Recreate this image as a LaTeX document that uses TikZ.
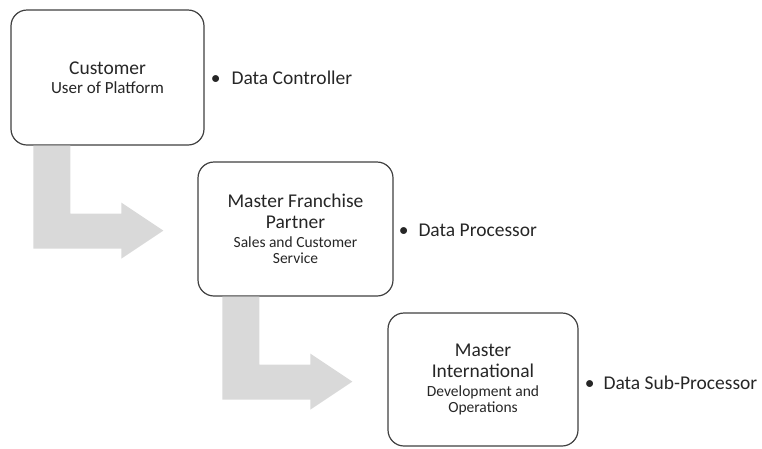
\documentclass[tikz,border=0pt]{standalone}
\usepackage{fontspec}
\setmainfont{Carlito}
\usepackage{tikz}
\usetikzlibrary{positioning,calc}
\definecolor{arrowgray}{RGB}{217,217,217}
\definecolor{boxgray}{RGB}{64,64,64}
\newcommand{\headfont}{\fontsize{19.5}{21}\selectfont}
\newcommand{\subfont}{\fontsize{15.5}{16}\selectfont}
\tikzstyle{entity} = [rectangle, rounded corners=16pt, draw=boxgray, line width=1.2pt, fill=white, minimum width=193pt, minimum height=135pt, align=center, inner sep=2pt, text=black!85, font=\headfont]
\tikzstyle{role} = [anchor=west, inner sep=0pt, text=black!85, font=\headfont]
\tikzstyle{blockarrow} = [fill=arrowgray, draw=none]
% bent block arrow, #1 = top left corner of the shaft
\newcommand{\bentarrow}[1]{\fill[blockarrow] #1 -- ++(37,0) -- ++(0,68) -- ++(51,0) -- ++(0,-11) -- ++(42,28) -- ++(-42,28) -- ++(0,-10) -- ++(-88,0) -- cycle;}

\begin{document}
\begin{tikzpicture}[x=1pt,y=-1pt]
        \useasboundingbox (0,0) rectangle (762,448);
        \node(cust) [entity] at (107.5,77.5) {Customer\\[-2pt] {\fontsize{17}{17}\selectfont User of Platform}};
        \node(partner) [entity, minimum width=195pt, minimum height=134pt] at (295.5,229) {Master Franchise\\ Partner\\[-2pt] {\subfont Sales and Customer}\\[-5pt] {\subfont Service}};
        \node(intl) [entity, minimum width=190pt, minimum height=133pt] at (483,379.5) {Master\\ International\\[-2pt] {\subfont Development and}\\[-5pt] {\subfont Operations}};
        \node(ctrl) [role, right=6pt of cust] {\textbullet\hspace{11pt}Data Controller};
        \node(proc) [role, right=5pt of partner, yshift=-1pt] {\textbullet\hspace{10pt}Data Processor};
        \node(sub) [role, right=6pt of intl, yshift=-3pt] {\textbullet\hspace{9pt}Data Sub-Processor};
        \bentarrow{($(cust.south west)+(23,0)$)}
        \bentarrow{($(partner.south west)+(25,0)$)}
    \end{tikzpicture}
\end{document}
